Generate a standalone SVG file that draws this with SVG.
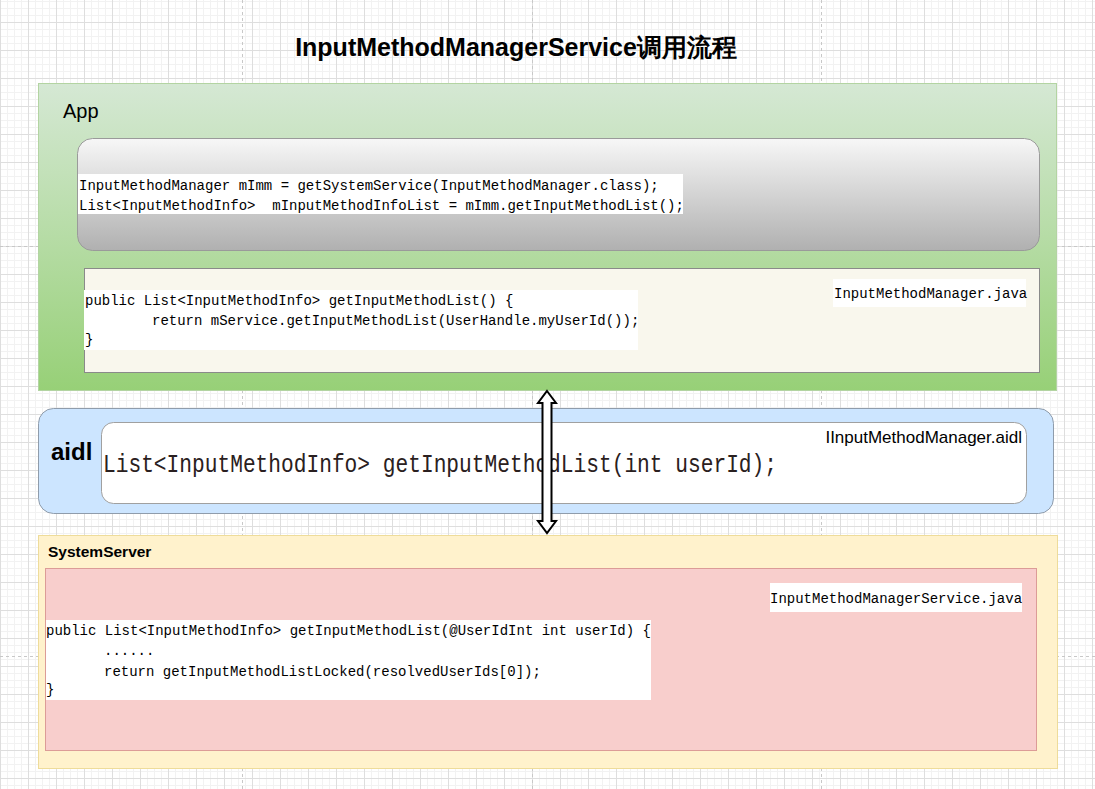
<svg xmlns="http://www.w3.org/2000/svg" width="1095" height="789" viewBox="0 0 1095 789">
<style>
.code{font-family:"Liberation Mono","DejaVu Sans Mono",monospace;font-size:14px;fill:#000;}
.sans{font-family:"Liberation Sans",Arial,sans-serif;fill:#000;}
.wbox{fill:#ffffff;stroke:none;}
.pb{stroke:#c8c8c8;stroke-width:1;stroke-dasharray:3 3;fill:none;}
</style>
<defs>
<pattern id="minor" patternUnits="userSpaceOnUse" x="0" y="1" width="7" height="7">
<path d="M0.5 0V7M0 0.5H7" stroke="#f2f2f2" stroke-width="1" fill="none"/>
</pattern>
<pattern id="major" patternUnits="userSpaceOnUse" x="28" y="22" width="28" height="28">
<path d="M0.5 0V28M0 0.5H28" stroke="#dedede" stroke-width="1" fill="none"/>
</pattern>
<linearGradient id="gApp" x1="0" y1="0" x2="0" y2="1">
<stop offset="0" stop-color="#d5e8d4"/>
<stop offset="1" stop-color="#97d077"/>
</linearGradient>
<linearGradient id="gGray" x1="0" y1="0" x2="0" y2="1">
<stop offset="0" stop-color="#f7f7f7"/>
<stop offset="1" stop-color="#b0b0b0"/>
</linearGradient>
</defs>
<rect width="1095" height="789" fill="#ffffff"/>
<rect width="1095" height="789" fill="url(#minor)"/>
<rect width="1095" height="789" fill="url(#major)"/>
<g id="pagebreaks">
<line class="pb" x1="242.5" y1="0" x2="242.5" y2="789"/>
<line class="pb" x1="532.5" y1="0" x2="532.5" y2="789"/>
<line class="pb" x1="821.5" y1="0" x2="821.5" y2="789"/>
<line class="pb" x1="0" y1="246.5" x2="1095" y2="246.5"/>
<line class="pb" x1="0" y1="656.5" x2="1095" y2="656.5"/>
</g>

<g id="title">
<text class="sans" x="516" y="56" font-size="25" font-weight="bold" text-anchor="middle" font-family="'Liberation Sans','Noto Sans CJK SC',sans-serif">InputMethodManagerService调用流程</text>
</g>

<g id="app">
<rect x="38.5" y="83.5" width="1018" height="307" fill="url(#gApp)" stroke="#b3d4a2" stroke-width="1"/>
<text class="sans" x="63" y="118" font-size="20">App</text>
</g>

<g id="app-call">
<rect x="77.5" y="138.5" width="962" height="112" rx="15" ry="15" fill="url(#gGray)" stroke="#9a9a9a" stroke-width="1"/>
<rect class="wbox" x="78" y="174" width="605" height="40"/>
<text class="code" x="79" y="190">InputMethodManager mImm = getSystemService(InputMethodManager.class);</text>
<text class="code" x="79" y="210" xml:space="preserve">List&lt;InputMethodInfo&gt;  mInputMethodInfoList = mImm.getInputMethodList();</text>
</g>

<g id="imm-java">
<rect x="84.5" y="268.5" width="955" height="104" fill="#f9f7ed" stroke="#8a8a8a" stroke-width="1"/>
<rect class="wbox" x="833" y="279" width="193" height="28"/>
<text class="code" x="834" y="298">InputMethodManager.java</text>
<rect class="wbox" x="84" y="290" width="554" height="60"/>
<text class="code" x="85" y="305">public List&lt;InputMethodInfo&gt; getInputMethodList() {</text>
<text class="code" x="152" y="325">return mService.getInputMethodList(UserHandle.myUserId());</text>
<text class="code" x="85" y="344">}</text>
</g>

<g id="aidl">
<rect x="38.5" y="408.5" width="1015" height="105" rx="15" ry="15" fill="#cce5ff" stroke="#8f9cab" stroke-width="1"/>
<text class="sans" x="51" y="460" font-size="24" font-weight="bold">aidl</text>
<rect x="101.5" y="422.5" width="925" height="81" rx="12" ry="12" fill="#ffffff" stroke="#a0a0a0" stroke-width="1"/>
<text class="sans" x="1022" y="443" font-size="17" text-anchor="end">IInputMethodManager.aidl</text>
<text x="103" y="472" font-family="'Liberation Mono','DejaVu Sans Mono',monospace" font-size="26" fill="#2a2020" textLength="674" lengthAdjust="spacingAndGlyphs">List&lt;InputMethodInfo&gt; getInputMethodList(int userId);</text>
</g>

<g id="systemserver">
<rect x="38.5" y="535.5" width="1019" height="233" fill="#fff2cc" stroke="#eedc9a" stroke-width="1"/>
<text class="sans" x="48" y="557" font-size="15.5" font-weight="bold">SystemServer</text>
</g>

<g id="imms-java">
<rect x="45.5" y="568.5" width="991" height="182" fill="#f8cecc" stroke="#dc9c97" stroke-width="1"/>
<rect class="wbox" x="770" y="583" width="252" height="29"/>
<text class="code" x="770" y="603">InputMethodManagerService.java</text>
<rect class="wbox" x="46" y="620" width="605" height="80"/>
<text class="code" x="46" y="635">public List&lt;InputMethodInfo&gt; getInputMethodList(@UserIdInt int userId) {</text>
<text class="code" x="104" y="655">......</text>
<text class="code" x="104" y="676">return getInputMethodListLocked(resolvedUserIds[0]);</text>
<text class="code" x="46" y="694">}</text>
</g>

<g id="connectors">
<path d="M547,391 L556,403 L551.5,403 L551.5,521 L556,521 L547,533 L538,521 L542.5,521 L542.5,403 L538,403 Z" fill="#ffffff" stroke="#000000" stroke-width="2" stroke-linejoin="miter"/>
</g>
</svg>
